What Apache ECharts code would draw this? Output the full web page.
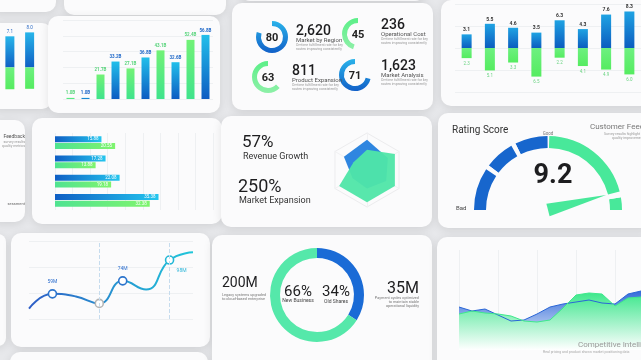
<!DOCTYPE html>
<html><head><meta charset="utf-8">
<script src="https://cdn.jsdelivr.net/npm/echarts@6/dist/echarts.min.js"></script>
<style>html,body{margin:0;padding:0;background:#e7e8eb;}#c{width:641px;height:360px;}</style>
</head><body><div id="c"></div>
<script>
// ---------------- DATA ----------------
const revCats = ['C1','C2','C3','C4','C5','C6','C7','C8','C9','C10'];
const revValues = [1.0, 1.0, 21.7, 33.2, 27.1, 36.8, 43.1, 32.6, 52.4, 56.8];

const ringValues = [80, 45, 63, 71];
const ringStats = ['2,620', '236', '811', '1,623'];
const ringTitles = ['Market by Region', 'Operational Cost', 'Product Expansion', 'Market Analysis'];

const divCats = ['D1','D2','D3','D4','D5','D6','D7','D8'];
const divPos = [3.1, 5.5, 4.6, 3.5, 6.3, 4.3, 7.6, 8.3];
const divNeg = [-2.3, -5.1, -3.3, -6.5, -2.2, -4.1, -4.9, -6.0];

const miniCats = ['M1', 'M2'];
const miniPos = [7.1, 8.0];
const miniNeg = [-5.0, -4.9];

const hbarCats = ['H1', 'H2', 'H3', 'H4'];
const hbarBlue = [15.88, 17.28, 22.08, 35.38];
const hbarGreen = [20.55, 13.88, 19.18, 32.38];

const kpiValues = ['57%', '250%'];
const kpiLabels = ['Revenue Growth', 'Market Expansion'];
// indicator order: top, upper-left, lower-left, bottom, lower-right, upper-right
const radarBlue = [0.82, 0.72, 0.45, 0.50, 0.60, 0.65];
const radarGreen = [0.55, 0.42, 0.87, 0.87, 0.87, 0.87];

const ratingScore = 9.2;

const lineCats = ['L1','L2','L3','L4','L5','L6','L7','L8'];
const lineValues = [42, 59, 56, 48, 74, 64, 98, 107];
const lineMarked = [1, 3, 4, 6];
const lineLabeled = [1, 4, 6];

const shareValues = [34, 66];
const shareLabels = ['Old Shares', 'New Business'];
const sideStats = ['200M', '35M'];

const areaCats = ['A1','A2','A3','A4','A5','A6','A7','A8','A9','A10','A11','A12','A13','A14','A15'];
const areaBlue = [43, 39, 41, 35, 29, 30, 36, 43, 46, 48, 50, 47, 46, 56, 59];
const areaGreen = [36, 39, 37, 36, 34, 29, 28, 30, 42, 55, 57, 56, 44, 52, 53];

// ---------------- STYLE ----------------
const FONT = 'Roboto, "Noto Sans", sans-serif';
const BLUE = '#1766cd', GREEN = '#48e89a', MINT = '#55e8aa';
const vgrad = (a, b) => ({type:'linear', x:0, y:0, x2:0, y2:1, colorStops:[{offset:0,color:a},{offset:1,color:b}]});
const hgrad = (a, b) => ({type:'linear', x:0, y:0, x2:1, y2:0, colorStops:[{offset:0,color:a},{offset:1,color:b}]});
const barBlue = vgrad('#22bfea', '#0d5cc2');
const barGreen = vgrad('#72f276', '#3fe38c');

const chart = echarts.init(document.getElementById('c'), null, {renderer:'canvas'});

const panels = [
  [-10,-20,66,32],[64,-20,162,35],[240,-20,185,21],
  [-10,23,62,86],[48,16,172,97],[232,3,201,107],[441,0,215,106],
  [-10,120,35,102],[32,118,190,106],[221,116,211,111],[438,113,215,115],
  [-10,234,16,112],[11,233,199,114],[10,352,198,40],[212,235,220,135],[437,237,215,135]
];
const graphics = panels.map(p => ({
  type:'rect', z:-10, shape:{x:p[0], y:p[1], width:p[2], height:p[3], r:10},
  style:{fill:'#fbfbfc', shadowBlur:10, shadowColor:'rgba(0,0,0,0.10)', shadowOffsetY:2}
}));
function txt(x, y, text, size, color, opts) {
  graphics.push({type:'text', z:5, style:{x, y, text, fill:color,
    font:(opts && opts.weight ? opts.weight+' ' : '') + size + 'px ' + FONT,
    verticalAlign:'middle', align:(opts && opts.align) || 'left'}});
}
// panel B texts
const ringCenters = [[272,37],[358,34],[268,77],[355,75]];
const statPos = [[296,31],[381,25],[292,71],[381,66]];
ringValues.forEach((v, i) => {
  txt(ringCenters[i][0], ringCenters[i][1] + 1, String(v), 11, '#222', {weight:'bold', align:'center'});
  txt(statPos[i][0], statPos[i][1], ringStats[i], 14, '#1d1d1f', {weight:'500'});
  txt(statPos[i][0], statPos[i][1] + 9, ringTitles[i], 6, '#555');
  txt(statPos[i][0], statPos[i][1] + 14, 'On-time fulfillment rate for key', 3.5, '#999');
  txt(statPos[i][0], statPos[i][1] + 18, 'routes improving consistently', 3.5, '#999');
});
// panel E
txt(242, 143, kpiValues[0], 17, '#1d1d1f');
txt(243, 157, kpiLabels[0], 9, '#333');
txt(238, 187, kpiValues[1], 18, '#1d1d1f');
txt(239, 201, kpiLabels[1], 9, '#333');
// panel F
txt(452, 130, 'Rating Score', 10, '#333');
txt(548, 134, 'Good', 4.5, '#777', {align:'center'});
txt(456, 208, 'Bad', 6, '#444');
txt(590, 127, 'Customer Feedback', 8, '#777');
txt(604, 134, 'Survey results highlight', 3.5, '#999');
txt(612, 138, 'quality improvements', 3.5, '#999');
// panel H
txt(298, 292, '66%', 15, '#1d1d1f', {align:'center'});
txt(298, 301, shareLabels[1], 5, '#444', {align:'center'});
txt(336, 292, '34%', 15, '#1d1d1f', {align:'center'});
txt(336, 302, shareLabels[0], 5, '#444', {align:'center'});
txt(222, 283, sideStats[0], 14, '#1d1d1f');
txt(222, 295, 'Legacy systems upgraded', 3.8, '#777');
txt(222, 299, 'to cloud-based enterprise', 3.8, '#777');
txt(419, 289, sideStats[1], 16, '#1d1d1f', {align:'right'});
txt(419, 298, 'Payment cycles optimized', 3.8, '#777', {align:'right'});
txt(419, 302, 'to maintain stable', 3.8, '#777', {align:'right'});
txt(419, 306, 'operational liquidity', 3.8, '#777', {align:'right'});
// panel I
txt(578, 345, 'Competitive Intelligence', 8, '#999');
txt(543, 352, 'Real pricing and product shows market positioning data', 3.5, '#aaa');
// left partial panels
txt(25, 137, 'Feedback', 5, '#555', {align:'right'});
txt(25, 142, 'survey results', 3.5, '#999', {align:'right'});
txt(25, 146, 'quality metrics', 3.5, '#999', {align:'right'});
txt(25, 204, 'sessment', 4, '#666', {align:'right'});

const ringClockwise = [true, false, false, false];
const ringColors = [vgrad('#2ab3ea','#1160c8'), vgrad('#5bef88','#8ef0a8'), vgrad('#5bef88','#8ef0a8'), vgrad('#2ab3ea','#1160c8')];

const series = [];
// Panel A bars
series.push({type:'bar', xAxisIndex:0, yAxisIndex:0, barWidth:8,
  data: revValues.map((v,i) => ({value:v, itemStyle:{color: i%2===0 ? barGreen : barBlue},
    label:{color: i%2===0 ? '#58d47c' : '#1f68c8'}})),
  label:{show:true, position:'top', fontSize:4.5, fontWeight:'bold', fontFamily:FONT, distance:2,
    formatter: p => p.value.toFixed(1) + 'B'}});
// Panel C diverging bars
series.push({type:'bar', xAxisIndex:1, yAxisIndex:1, barWidth:10, stack:'d', data:divPos,
  itemStyle:{color:vgrad('#1fa3e3','#0c5cbf')},
  label:{show:true, position:'top', fontSize:5, fontWeight:'bold', color:'#333', distance:2, fontFamily:FONT}});
series.push({type:'bar', xAxisIndex:1, yAxisIndex:1, barWidth:10, stack:'d', data:divNeg,
  itemStyle:{color:vgrad('#6ef080','#55ec60')},
  label:{show:true, position:'bottom', fontSize:4.5, color:'#6bd483', distance:3, fontFamily:FONT,
    formatter: p => Math.abs(p.value).toFixed(1)}});
// mini bars (left partial)
series.push({type:'bar', xAxisIndex:5, yAxisIndex:5, barWidth:9, stack:'m', data:miniPos,
  itemStyle:{color:vgrad('#28b6ea','#0f5fc4')},
  label:{show:true, position:'top', fontSize:4.5, color:'#2b6ac4', distance:2, formatter: p => p.value.toFixed(1)}});
series.push({type:'bar', xAxisIndex:5, yAxisIndex:5, barWidth:9, stack:'m', data:miniNeg,
  itemStyle:{color:vgrad('#6ef080','#55ec60')}});
// Panel D horizontal bars
series.push({type:'bar', xAxisIndex:2, yAxisIndex:2, barWidth:6, barGap:'12%', data:hbarBlue,
  itemStyle:{color:hgrad('#0f5ec4','#24c6ee')},
  label:{show:true, position:'insideRight', fontSize:4.5, color:'#fff', distance:3}});
series.push({type:'bar', xAxisIndex:2, yAxisIndex:2, barWidth:6, data:hbarGreen,
  itemStyle:{color:hgrad('#4fe391','#7ff46e')},
  label:{show:true, position:'insideRight', fontSize:4.5, color:'#fff', distance:3}});
// Panel G line
series.push({type:'line', xAxisIndex:3, yAxisIndex:3, smooth:0.5, data: lineValues.map((v,i) => ({
    value:v,
    symbol: lineMarked.includes(i) ? 'circle' : 'none',
    symbolSize: 8,
    itemStyle:{color:'#fff', borderWidth:1.6, borderColor: i===3 ? '#b5b5b5' : (i>4 ? '#22b7d6' : '#2c74cc')},
    label:{show: lineLabeled.includes(i), position: i===6 ? 'bottom' : 'top', offset: i===6 ? [12,-2] : [0,0],
      fontSize:5, color: i===6 ? '#2bb5d8' : '#2e6fcf', formatter:'{c}M'}
  })),
  showAllSymbol:true,
  lineStyle:{width:2, color:hgrad('#2e5cc6','#20c8da')},
  markLine:{silent:true, symbol:'none', label:{show:false},
    lineStyle:{type:'dashed', color:'#c6dcee', width:1}, data:[{xAxis:3},{xAxis:6}]}});
// Panel I area
series.push({type:'line', xAxisIndex:4, yAxisIndex:4, data:areaBlue, symbol:'none',
  lineStyle:{width:1, color:'#2a66d6'},
  areaStyle:{opacity:1, color:vgrad('rgba(40,100,215,0.95)','rgba(255,255,255,0.9)')}});
series.push({type:'line', xAxisIndex:4, yAxisIndex:4, data:areaGreen, symbol:'none',
  lineStyle:{width:1, color:'#3fe88c'},
  areaStyle:{opacity:1, color:vgrad('rgba(62,232,140,1)','rgba(255,255,255,0.95)')}});
// Panel B rings
ringValues.forEach((v,i) => {
  series.push({type:'pie', center:ringCenters[i], radius:[11,16], startAngle:90, clockwise:ringClockwise[i],
    silent:true, label:{show:false}, labelLine:{show:false},
    data:[{value:v, itemStyle:{color:ringColors[i]}}, {value:100-v, itemStyle:{color:'rgba(0,0,0,0)'}}]});
});
// Panel H donut
series.push({type:'pie', center:[317,295], radius:[37,47], startAngle:90, clockwise:true, silent:true,
  label:{show:false}, labelLine:{show:false},
  data:[{value:shareValues[0], name:shareLabels[0], itemStyle:{color:'#1a6bd6'}},
        {value:shareValues[1], name:shareLabels[1], itemStyle:{color:MINT}}]});
// Panel E radar
series.push({type:'radar', radarIndex:0, symbol:'none', data:[
  {value:radarBlue, lineStyle:{width:0}, areaStyle:{color:'#2f86e0', opacity:1}},
  {value:radarGreen, lineStyle:{width:0}, areaStyle:{color:'#4fe6a8', opacity:0.95}}]});
// Panel F gauge
series.push({type:'gauge', center:[548,210], radius:74, startAngle:180, endAngle:0, min:0, max:10,
  axisLine:{lineStyle:{width:12, color:[[0.185,BLUE],[0.205,'#fbfbfc'],[0.335,BLUE],[0.355,'#fbfbfc'],[0.498,BLUE],[0.505,'#fbfbfc'],[0.92,GREEN],[0.945,'#fbfbfc'],[1,GREEN]]}},
  axisTick:{show:false}, splitLine:{show:false}, axisLabel:{show:false},
  pointer:{show:true, icon:'triangle', length:60, width:13, offsetCenter:[0,0], itemStyle:{color:GREEN}},
  anchor:{show:false}, title:{show:false},
  detail:{show:true, offsetCenter:[5,-34], fontSize:27, color:'#1d1d1f', fontFamily:FONT, formatter:'{value}'},
  data:[{value:ratingScore}]});

const gridLine = {show:true, lineStyle:{color:'#eef0f2', width:1}};
const noAxis = {axisLine:{show:false}, axisTick:{show:false}, axisLabel:{show:false}};

const option = {
  backgroundColor:'#e7e8eb',
  animation:false,
  textStyle:{fontFamily:FONT},
  graphic: graphics,
  grid:[
    {left:63, top:20, width:150, height:79},
    {left:455, top:4, width:192, height:88},
    {left:55, top:133, width:158, height:77},
    {left:29, top:241, width:164, height:78},
    {left:459, top:250, width:182, height:100},
    {left:-6.5, top:28, width:46, height:70}
  ],
  xAxis:[
    Object.assign({type:'category', gridIndex:0, data:revCats}, noAxis),
    Object.assign({type:'category', gridIndex:1, data:divCats}, noAxis),
    Object.assign({type:'value', gridIndex:2, min:0, max:54, interval:6, splitLine:gridLine}, noAxis),
    Object.assign({type:'category', gridIndex:3, data:lineCats, boundaryGap:false}, noAxis),
    Object.assign({type:'category', gridIndex:4, data:areaCats, boundaryGap:false,
      splitLine:{show:true, interval:2, lineStyle:{color:'#eef0f2'}}}, noAxis),
    Object.assign({type:'category', gridIndex:5, data:miniCats}, noAxis)
  ],
  yAxis:[
    Object.assign({type:'value', gridIndex:0, min:0, max:70, interval:14, splitLine:gridLine}, noAxis),
    Object.assign({type:'value', gridIndex:1, min:-10, max:10, interval:5, splitLine:gridLine}, noAxis),
    Object.assign({type:'category', gridIndex:2, data:hbarCats, inverse:true}, noAxis),
    Object.assign({type:'value', gridIndex:3, min:30, max:120, interval:30, splitLine:gridLine}, noAxis),
    Object.assign({type:'value', gridIndex:4, min:0, max:100, splitLine:{show:false}}, noAxis),
    Object.assign({type:'value', gridIndex:5, min:-7, max:9, splitLine:{show:false}}, noAxis)
  ],
  radar:[{center:[367,170], radius:37, startAngle:90, splitNumber:2, shape:'polygon',
    indicator: radarBlue.map(() => ({max:1})),
    axisName:{show:false},
    splitLine:{lineStyle:{color:'#ececee'}}, splitArea:{show:false}, axisLine:{lineStyle:{color:'#f1f1f3'}}}],
  series: series
};
chart.setOption(option);
</script>
</body></html>
